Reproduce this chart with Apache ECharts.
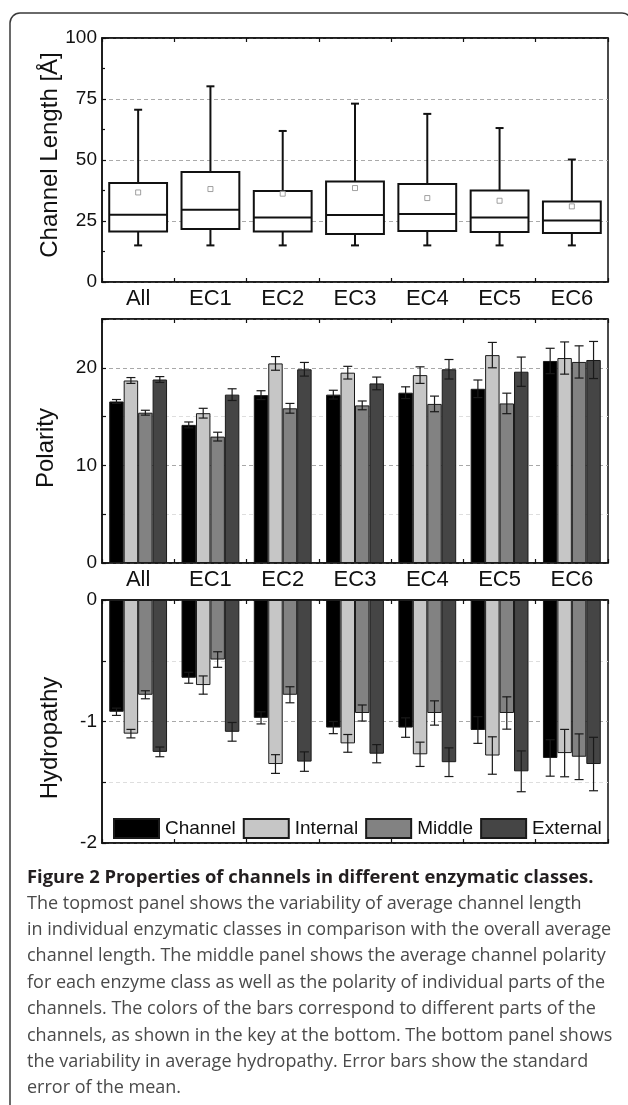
<!DOCTYPE html>
<html>
<head>
<meta charset="utf-8" />
<title>Properties of channels</title>
<style type="text/css">
	html, body { margin: 0; padding: 0; background: #fff; }
	#main { width: 628px; height: 1105px; }
</style>
<script src="https://cdn.jsdelivr.net/npm/echarts@6/dist/echarts.min.js"></script>
</head>
<body>
<div id="main"></div>
<script type="text/javascript">
var classes = ['All', 'EC1', 'EC2', 'EC3', 'EC4', 'EC5', 'EC6'];
var parts = ['Channel', 'Internal', 'Middle', 'External'];
var partColors = ['#000000', '#c6c6c6', '#828282', '#454545'];

// channel length [Å], box plot
var lenMin = [15.0, 15.0, 15.0, 15.0, 15.0, 15.0, 15.0];
var lenQ1 = [20.7, 21.7, 20.7, 19.7, 20.9, 20.5, 20.1];
var lenMedian = [27.6, 29.6, 26.4, 27.5, 27.9, 26.4, 25.2];
var lenQ3 = [40.6, 45.1, 37.3, 41.2, 40.2, 37.5, 33.0];
var lenMax = [70.6, 80.2, 61.9, 73.1, 68.9, 63.1, 50.2];
var lenMean = [36.7, 38.1, 36.2, 38.5, 34.4, 33.3, 31.0];

// polarity
var polChannel = [16.55, 14.15, 17.2, 17.25, 17.45, 17.85, 20.7];
var polInternal = [18.7, 15.35, 20.45, 19.5, 19.25, 21.3, 21.0];
var polMiddle = [15.4, 12.95, 15.85, 16.15, 16.3, 16.35, 20.6];
var polExternal = [18.8, 17.25, 19.85, 18.4, 19.85, 19.6, 20.8];
var polChannelErr = [0.2, 0.3, 0.45, 0.45, 0.6, 0.9, 1.3];
var polInternalErr = [0.3, 0.5, 0.7, 0.65, 0.85, 1.3, 1.65];
var polMiddleErr = [0.25, 0.45, 0.5, 0.45, 0.8, 1.05, 1.65];
var polExternalErr = [0.3, 0.6, 0.7, 0.65, 1.0, 1.5, 1.9];

// hydropathy
var hydChannel = [-0.92, -0.64, -0.97, -1.05, -1.05, -1.07, -1.30];
var hydInternal = [-1.10, -0.70, -1.35, -1.18, -1.27, -1.28, -1.26];
var hydMiddle = [-0.78, -0.49, -0.78, -0.93, -0.93, -0.93, -1.29];
var hydExternal = [-1.25, -1.085, -1.33, -1.265, -1.335, -1.41, -1.35];
var hydChannelErr = [0.03, 0.045, 0.05, 0.05, 0.08, 0.11, 0.15];
var hydInternalErr = [0.035, 0.075, 0.077, 0.073, 0.1, 0.154, 0.195];
var hydMiddleErr = [0.033, 0.064, 0.066, 0.066, 0.1, 0.133, 0.188];
var hydExternalErr = [0.04, 0.077, 0.08, 0.075, 0.118, 0.168, 0.22];

var captionTitle = 'Figure 2 Properties of channels in different enzymatic classes.';
var captionLines = [
	'The topmost panel shows the variability of average channel length',
	'in individual enzymatic classes in comparison with the overall average',
	'channel length. The middle panel shows the average channel polarity',
	'for each enzyme class as well as the polarity of individual parts of the',
	'channels. The colors of the bars correspond to different parts of the',
	'channels, as shown in the key at the bottom. The bottom panel shows',
	'the variability in average hydropathy. Error bars show the standard',
	'error of the mean.'
];

var FONT = '"Liberation Sans", Arial, sans-serif';
var myChart = echarts.init(document.getElementById('main'), null, {renderer: 'canvas'});

function xAxisFor(grid, pos, showLabel) {
	return {
		type: 'category', gridIndex: grid, position: pos, data: classes,
		boundaryGap: true,
		axisLine: {show: true, onZero: false, lineStyle: {color: '#111', width: 1.5}},
		axisTick: {show: true, inside: true, length: 4, lineStyle: {color: '#111', width: 1.2}},
		axisLabel: {show: showLabel, fontFamily: FONT, fontSize: 22, color: '#111', margin: 6},
		splitLine: {show: false}
	};
}

function yAxisFor(grid, min, max, step, fmt, colors) {
	return {
		type: 'value', gridIndex: grid, min: min, max: max, interval: step,
		axisLine: {show: true, onZero: false, lineStyle: {color: '#111', width: 1.5}},
		axisTick: {show: true, inside: true, length: 4, lineStyle: {color: '#111', width: 1.2}},
		axisLabel: {fontFamily: FONT, fontSize: 19, color: '#111', margin: 5, formatter: fmt},
		splitLine: {show: true, lineStyle: {color: colors, type: [4, 3], width: 1}}
	};
}

// box: [index, min, q1, median, q3, max]
function renderBox(params, api) {
	var i = api.value(0);
	var band = api.size([1, 0])[0];
	var cx = api.coord([i, 0])[0];
	var half = band * 0.4;
	var yMin = api.coord([i, api.value(1)])[1];
	var yQ1 = api.coord([i, api.value(2)])[1];
	var yMed = api.coord([i, api.value(3)])[1];
	var yQ3 = api.coord([i, api.value(4)])[1];
	var yMax = api.coord([i, api.value(5)])[1];
	var st = {stroke: '#111', lineWidth: 2, fill: null};
	var cap = 4;
	return {type: 'group', children: [
		{type: 'line', shape: {x1: cx, y1: yMax, x2: cx, y2: yQ3}, style: st},
		{type: 'line', shape: {x1: cx, y1: yQ1, x2: cx, y2: yMin}, style: st},
		{type: 'line', shape: {x1: cx - cap, y1: yMax, x2: cx + cap, y2: yMax}, style: st},
		{type: 'line', shape: {x1: cx - cap, y1: yMin, x2: cx + cap, y2: yMin}, style: st},
		{type: 'rect', shape: {x: cx - half, y: yQ3, width: half * 2, height: yQ1 - yQ3}, style: {stroke: '#111', lineWidth: 2, fill: '#fff'}},
		{type: 'line', shape: {x1: cx - half, y1: yMed, x2: cx + half, y2: yMed}, style: st}
	]};
}

// error bar: [index, part, value, err]
function renderErr(params, api) {
	var i = api.value(0), k = api.value(1), v = api.value(2), e = api.value(3);
	var band = api.size([1, 0])[0];
	var bw = band * 0.8 / 4;
	var cx = api.coord([i, 0])[0] + (k - 1.5) * bw;
	var yHi = api.coord([i, v + e])[1];
	var yLo = api.coord([i, v - e])[1];
	var h = 4.5;
	var st = {stroke: '#1a1a1a', lineWidth: 1.2};
	return {type: 'group', children: [
		{type: 'line', shape: {x1: cx, y1: yHi, x2: cx, y2: yLo}, style: st},
		{type: 'line', shape: {x1: cx - h, y1: yHi, x2: cx + h, y2: yHi}, style: st},
		{type: 'line', shape: {x1: cx - h, y1: yLo, x2: cx + h, y2: yLo}, style: st}
	]};
}

var boxData = classes.map(function (c, i) {
	return [i, lenMin[i], lenQ1[i], lenMedian[i], lenQ3[i], lenMax[i]];
});
var meanData = classes.map(function (c, i) { return [i, lenMean[i]]; });

var polVals = [polChannel, polInternal, polMiddle, polExternal];
var polErrs = [polChannelErr, polInternalErr, polMiddleErr, polExternalErr];
var hydVals = [hydChannel, hydInternal, hydMiddle, hydExternal];
var hydErrs = [hydChannelErr, hydInternalErr, hydMiddleErr, hydExternalErr];

function errData(vals, errs) {
	var out = [];
	for (var k = 0; k < vals.length; k++) {
		for (var i = 0; i < classes.length; i++) out.push([i, k, vals[k][i], errs[k][i]]);
	}
	return out;
}

var series = [
	{type: 'custom', name: 'length', xAxisIndex: 0, yAxisIndex: 0, renderItem: renderBox,
		encode: {x: 0, y: [1, 2, 3, 4, 5]}, data: boxData, z: 3},
	{type: 'scatter', name: 'mean', xAxisIndex: 0, yAxisIndex: 0, symbol: 'rect', symbolSize: 5,
		itemStyle: {color: '#fff', borderColor: '#8a8a8a', borderWidth: 1}, data: meanData, z: 4}
];

function addBars(xi, yi, vals) {
	for (var k = 0; k < parts.length; k++) {
		series.push({
			type: 'bar', name: parts[k], xAxisIndex: xi, yAxisIndex: yi, data: vals[k],
			barGap: '0%', barCategoryGap: '20%',
			itemStyle: {color: partColors[k], borderColor: '#1a1a1a', borderWidth: 1}
		});
	}
}
addBars(2, 1, polVals);
series.push({type: 'custom', name: 'polErr', xAxisIndex: 2, yAxisIndex: 1, renderItem: renderErr,
	encode: {x: 0, y: 2}, data: errData(polVals, polErrs), z: 5});
addBars(4, 2, hydVals);
series.push({type: 'custom', name: 'hydErr', xAxisIndex: 4, yAxisIndex: 2, renderItem: renderErr,
	encode: {x: 0, y: 2}, data: errData(hydVals, hydErrs), z: 5});

var option = {
	animation: false,
	backgroundColor: '#fff',
	grid: [
		{left: 102, top: 38, width: 506, height: 244, show: true, borderColor: '#111', borderWidth: 1.5},
		{left: 102, top: 319, width: 506, height: 244, show: true, borderColor: '#111', borderWidth: 1.5},
		{left: 102, top: 600, width: 506, height: 243, show: true, borderColor: '#111', borderWidth: 1.5}
	],
	xAxis: [
		xAxisFor(0, 'bottom', true), xAxisFor(0, 'top', false),
		xAxisFor(1, 'bottom', true), xAxisFor(1, 'top', false),
		xAxisFor(2, 'bottom', false), xAxisFor(2, 'top', false)
	],
	yAxis: [
		(function () {
			var a = yAxisFor(0, 0, 100, 25, null, ['#aaa']);
			a.minorTick = {show: true, splitNumber: 2, length: 3, lineStyle: {color: '#111', width: 1.2}};
			return a;
		})(),
		yAxisFor(1, 0, 25, 5, function (v) { return v % 10 === 0 ? String(v) : ''; }, ['#a8a8a8', '#dedede']),
		yAxisFor(2, -2, 0, 0.5, function (v) { return v % 1 === 0 ? String(v) : ''; }, ['#a8a8a8', '#dedede'])
	],
	legend: {
		data: parts, left: 113, top: 818, orient: 'horizontal', padding: 0,
		icon: 'rect', itemWidth: 45, itemHeight: 19, itemGap: 7,
		textStyle: {fontFamily: FONT, fontSize: 19, color: '#111', padding: [0, 0, 0, 1]}
	},
	graphic: [
		{type: 'rect', silent: true, z: -10,
			shape: {x: 10, y: 13, width: 622, height: 1200, r: 10},
			style: {fill: null, stroke: '#3a3a3a', lineWidth: 1.5}},
		{type: 'text', x: 50, y: 155, rotation: Math.PI / 2,
			style: {text: 'Channel Length [Å]', font: '24px ' + FONT, fill: '#111', textAlign: 'center', textVerticalAlign: 'middle'}},
		{type: 'text', x: 46, y: 448, rotation: Math.PI / 2,
			style: {text: 'Polarity', font: '24px ' + FONT, fill: '#111', textAlign: 'center', textVerticalAlign: 'middle'}},
		{type: 'text', x: 50, y: 738, rotation: Math.PI / 2,
			style: {text: 'Hydropathy', font: '24px ' + FONT, fill: '#111', textAlign: 'center', textVerticalAlign: 'middle'}},
		{type: 'text', x: 27, y: 878,
			style: {text: captionTitle, font: 'bold 18.4px "Open Sans", sans-serif', fill: '#231f20', textVerticalAlign: 'middle'}},
		{type: 'text', x: 27, y: 890.3,
			style: {text: captionLines.join('\n'), font: '18px "Open Sans", sans-serif', fill: '#4a4a4a', lineHeight: 26.4, textVerticalAlign: 'top'}}
	],
	series: series
};
myChart.setOption(option);
</script>
</body>
</html>
